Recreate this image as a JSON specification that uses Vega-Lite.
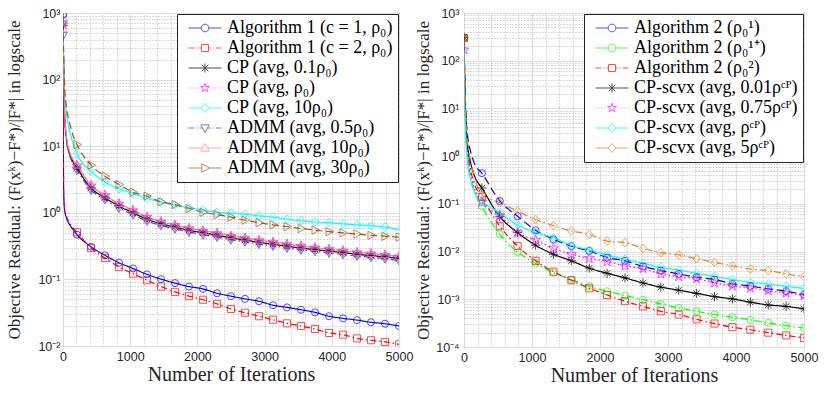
{
  "$schema": "https://vega.github.io/schema/vega-lite/v6.json",
  "background": "white",
  "padding": {"left": 5, "top": 6, "right": 5, "bottom": 5},
  "spacing": 0,
  "config": {
    "view": {"stroke": "#262626", "strokeWidth": 1},
    "axis": {
      "labelFont": "Liberation Sans", "labelFontSize": 12.5, "labelColor": "#262626",
      "titleFont": "Liberation Serif", "titleFontWeight": "normal", "titleColor": "#262626",
      "domain": false, "ticks": false, "labelFlush": false, "labelOverlap": false,
      "gridColor": "#dcdcdc", "gridWidth": 1
    },
    "legend": {
      "labelFont": "Liberation Serif", "labelFontSize": 18, "labelColor": "#000000",
      "fillColor": "white", "strokeColor": "#262626", "padding": 5, "rowPadding": 2,
      "symbolOffset": 14, "labelOffset": 13, "symbolSize": 49, "symbolStrokeWidth": 1,
      "orient": "top-right", "offset": 1, "labelLimit": 400
    }
  },
  "datasets": {
    "L": [
      {"it": 0, "a1": 940, "a2": 980, "a3": 650, "a4": 720, "a5": 800, "a6": 460, "a7": 590, "a8": 700},
      {"it": 10, "a1": 2.0, "a2": 2.1, "a3": 140, "a4": 150, "a5": 220, "a6": 120, "a7": 150, "a8": 260},
      {"it": 25, "a1": 1.1, "a2": 1.15, "a3": 28, "a4": 30, "a5": 60, "a6": 26, "a7": 31, "a8": 75},
      {"it": 50, "a1": 0.85, "a2": 0.9, "a3": 13.5, "a4": 14, "a5": 33, "a6": 12.5, "a7": 14.5, "a8": 40},
      {"it": 100, "a1": 0.66, "a2": 0.7, "a3": 7.6, "a4": 8, "a5": 17, "a6": 7.2, "a7": 8.2, "a8": 22},
      {"it": 150, "a1": 0.56, "a2": 0.59, "a3": 5.8, "a4": 6.1, "a5": 11, "a6": 5.5, "a7": 6.3, "a8": 14.5},
      {"it": 208, "a1": 0.47, "a2": 0.51, "a3": 4.7, "a4": 5.1, "a5": 7.7, "a6": 4.4, "a7": 5.2, "a8": 10.6},
      {"it": 417, "a1": 0.31, "a2": 0.295, "a3": 2.35, "a4": 2.55, "a5": 4.2, "a6": 2.2, "a7": 2.6, "a8": 5.2},
      {"it": 625, "a1": 0.23, "a2": 0.21, "a3": 1.68, "a4": 1.82, "a5": 2.9, "a6": 1.58, "a7": 1.85, "a8": 3.55},
      {"it": 833, "a1": 0.178, "a2": 0.153, "a3": 1.26, "a4": 1.36, "a5": 2.3, "a6": 1.18, "a7": 1.38, "a8": 2.66},
      {"it": 1042, "a1": 0.146, "a2": 0.122, "a3": 1.0, "a4": 1.08, "a5": 1.95, "a6": 0.94, "a7": 1.1, "a8": 2.04},
      {"it": 1250, "a1": 0.119, "a2": 0.097, "a3": 0.8, "a4": 0.86, "a5": 1.65, "a6": 0.75, "a7": 0.87, "a8": 1.78},
      {"it": 1458, "a1": 0.101, "a2": 0.078, "a3": 0.685, "a4": 0.73, "a5": 1.45, "a6": 0.645, "a7": 0.74, "a8": 1.46},
      {"it": 1667, "a1": 0.088, "a2": 0.065, "a3": 0.61, "a4": 0.65, "a5": 1.3, "a6": 0.575, "a7": 0.66, "a8": 1.33},
      {"it": 1875, "a1": 0.078, "a2": 0.056, "a3": 0.545, "a4": 0.58, "a5": 1.19, "a6": 0.515, "a7": 0.59, "a8": 1.16},
      {"it": 2083, "a1": 0.072, "a2": 0.0495, "a3": 0.5, "a4": 0.53, "a5": 1.1, "a6": 0.47, "a7": 0.54, "a8": 1.02},
      {"it": 2292, "a1": 0.062, "a2": 0.043, "a3": 0.46, "a4": 0.49, "a5": 1.02, "a6": 0.435, "a7": 0.5, "a8": 0.94},
      {"it": 2500, "a1": 0.056, "a2": 0.036, "a3": 0.42, "a4": 0.445, "a5": 0.99, "a6": 0.395, "a7": 0.455, "a8": 0.86},
      {"it": 2708, "a1": 0.051, "a2": 0.0316, "a3": 0.39, "a4": 0.415, "a5": 0.95, "a6": 0.368, "a7": 0.42, "a8": 0.775},
      {"it": 2917, "a1": 0.047, "a2": 0.028, "a3": 0.36, "a4": 0.385, "a5": 0.9, "a6": 0.34, "a7": 0.39, "a8": 0.71},
      {"it": 3125, "a1": 0.041, "a2": 0.0248, "a3": 0.337, "a4": 0.36, "a5": 0.86, "a6": 0.318, "a7": 0.365, "a8": 0.66},
      {"it": 3333, "a1": 0.038, "a2": 0.0219, "a3": 0.315, "a4": 0.335, "a5": 0.8, "a6": 0.297, "a7": 0.34, "a8": 0.62},
      {"it": 3542, "a1": 0.035, "a2": 0.02, "a3": 0.295, "a4": 0.315, "a5": 0.76, "a6": 0.278, "a7": 0.32, "a8": 0.58},
      {"it": 3750, "a1": 0.032, "a2": 0.018, "a3": 0.28, "a4": 0.298, "a5": 0.73, "a6": 0.264, "a7": 0.3, "a8": 0.55},
      {"it": 3958, "a1": 0.028, "a2": 0.0157, "a3": 0.266, "a4": 0.283, "a5": 0.71, "a6": 0.25, "a7": 0.285, "a8": 0.52},
      {"it": 4167, "a1": 0.026, "a2": 0.0148, "a3": 0.252, "a4": 0.268, "a5": 0.68, "a6": 0.237, "a7": 0.27, "a8": 0.5},
      {"it": 4375, "a1": 0.0245, "a2": 0.013, "a3": 0.238, "a4": 0.253, "a5": 0.66, "a6": 0.225, "a7": 0.255, "a8": 0.48},
      {"it": 4583, "a1": 0.0227, "a2": 0.0122, "a3": 0.228, "a4": 0.243, "a5": 0.64, "a6": 0.215, "a7": 0.245, "a8": 0.46},
      {"it": 4792, "a1": 0.0216, "a2": 0.0115, "a3": 0.218, "a4": 0.232, "a5": 0.61, "a6": 0.205, "a7": 0.235, "a8": 0.445},
      {"it": 5000, "a1": 0.02, "a2": 0.0106, "a3": 0.207, "a4": 0.218, "a5": 0.56, "a6": 0.192, "a7": 0.222, "a8": 0.43}
    ],
    "R": [
      {"it": 0, "b1": 300, "b2": 300, "b3": 300, "b4": 310, "b5": 170, "b6": 170, "b7": 310},
      {"it": 10, "b1": 60, "b2": 30, "b3": 40, "b4": 45, "b5": 30, "b6": 20, "b7": 50},
      {"it": 25, "b1": 10, "b2": 4, "b3": 6, "b4": 7, "b5": 4, "b6": 3, "b7": 7},
      {"it": 50, "b1": 3, "b2": 1.1, "b3": 1.6, "b4": 1.9, "b5": 1.2, "b6": 0.8, "b7": 2.2},
      {"it": 100, "b1": 1.2, "b2": 0.35, "b3": 0.5, "b4": 0.7, "b5": 0.4, "b6": 0.3, "b7": 0.75},
      {"it": 150, "b1": 0.72, "b2": 0.19, "b3": 0.27, "b4": 0.4, "b5": 0.22, "b6": 0.18, "b7": 0.38},
      {"it": 263, "b1": 0.44, "b2": 0.09, "b3": 0.14, "b4": 0.215, "b5": 0.11, "b6": 0.115, "b7": 0.156},
      {"it": 526, "b1": 0.115, "b2": 0.023, "b3": 0.034, "b4": 0.054, "b5": 0.057, "b6": 0.065, "b7": 0.106},
      {"it": 789, "b1": 0.055, "b2": 0.0098, "b3": 0.013, "b4": 0.025, "b5": 0.025, "b6": 0.036, "b7": 0.07},
      {"it": 1053, "b1": 0.028, "b2": 0.0057, "b3": 0.0064, "b4": 0.0136, "b5": 0.0174, "b6": 0.025, "b7": 0.047},
      {"it": 1316, "b1": 0.018, "b2": 0.0036, "b3": 0.0038, "b4": 0.0088, "b5": 0.0117, "b6": 0.0196, "b7": 0.035},
      {"it": 1579, "b1": 0.013, "b2": 0.0026, "b3": 0.0025, "b4": 0.0064, "b5": 0.0088, "b6": 0.0135, "b7": 0.027},
      {"it": 1842, "b1": 0.0103, "b2": 0.00187, "b3": 0.0017, "b4": 0.0045, "b5": 0.0072, "b6": 0.0108, "b7": 0.023},
      {"it": 2105, "b1": 0.0075, "b2": 0.00147, "b3": 0.00123, "b4": 0.0035, "b5": 0.0062, "b6": 0.0085, "b7": 0.0166},
      {"it": 2368, "b1": 0.0064, "b2": 0.0012, "b3": 0.00091, "b4": 0.0028, "b5": 0.005, "b6": 0.0069, "b7": 0.0154},
      {"it": 2632, "b1": 0.0049, "b2": 0.00098, "b3": 0.00071, "b4": 0.0022, "b5": 0.0044, "b6": 0.0057, "b7": 0.0117},
      {"it": 2895, "b1": 0.004, "b2": 0.0008, "b3": 0.00056, "b4": 0.0018, "b5": 0.0034, "b6": 0.0047, "b7": 0.0095},
      {"it": 3158, "b1": 0.0034, "b2": 0.00066, "b3": 0.00048, "b4": 0.00155, "b5": 0.003, "b6": 0.0041, "b7": 0.0085},
      {"it": 3421, "b1": 0.0029, "b2": 0.00056, "b3": 0.00038, "b4": 0.00133, "b5": 0.0027, "b6": 0.0035, "b7": 0.0071},
      {"it": 3684, "b1": 0.0026, "b2": 0.00048, "b3": 0.00031, "b4": 0.00114, "b5": 0.0022, "b6": 0.003, "b7": 0.0059},
      {"it": 3947, "b1": 0.0021, "b2": 0.00042, "b3": 0.00026, "b4": 0.00102, "b5": 0.0019, "b6": 0.0026, "b7": 0.005},
      {"it": 4211, "b1": 0.0019, "b2": 0.00037, "b3": 0.00023, "b4": 0.00087, "b5": 0.00172, "b6": 0.00225, "b7": 0.0043},
      {"it": 4474, "b1": 0.00165, "b2": 0.00032, "b3": 0.0002, "b4": 0.00076, "b5": 0.00152, "b6": 0.0021, "b7": 0.004},
      {"it": 4737, "b1": 0.00148, "b2": 0.00028, "b3": 0.000175, "b4": 0.00071, "b5": 0.00135, "b6": 0.00186, "b7": 0.0034},
      {"it": 5000, "b1": 0.00126, "b2": 0.00025, "b3": 0.000155, "b4": 0.00063, "b5": 0.0012, "b6": 0.0017, "b7": 0.003}
    ]
  },
  "hconcat": [
    {
      "width": 336,
      "height": 333,
      "data": {"name": "L"},
      "transform": [{"fold": ["a1", "a2", "a3", "a4", "a5", "a6", "a7", "a8"], "as": ["key", "v"]}],
      "resolve": {
        "scale": {"color": "independent", "shape": "independent", "strokeDash": "independent"},
        "axis": {"x": "independent", "y": "independent"}
      },
      "layer": [
        {
          "mark": {"type": "line", "strokeWidth": 1.2, "clip": true, "interpolate": "monotone"},
          "encoding": {
            "x": {"field": "it", "type": "quantitative", "scale": {"domain": [0, 5000], "nice": false},
              "axis": {"orient": "bottom", "values": [0, 1000, 2000, 3000, 4000, 5000], "format": "d", "title": "Number of Iterations", "titleFontSize": 20, "labelPadding": 4, "titlePadding": 2, "grid": true}},
            "y": {"field": "v", "type": "quantitative", "scale": {"type": "log", "domain": [0.01, 1000], "nice": false},
              "axis": {"orient": "left", "values": [0.01, 0.1, 1, 10, 100, 1000], "title": "Objective Residual: (F(xᵏ)−F*)/|F*| in logscale", "titleFontSize": 17, "titleLimit": 600, "labelPadding": 3, "titlePadding": 14, "grid": true,
                "labelExpr": "'10' + {'-4':'⁻⁴','-3':'⁻³','-2':'⁻²','-1':'⁻¹','0':'⁰','1':'¹','2':'²','3':'³'}[round(log(datum.value)/LN10)]"}},
            "color": {"field": "key", "type": "nominal", "legend": null,
              "scale": {"domain": ["a1", "a2", "a3", "a4", "a5", "a6", "a7", "a8"], "range": ["#0000ff", "#ff0000", "#000000", "#ff00ff", "#00ffff", "#4040c4", "#ff8080", "#9a5518"]}},
            "strokeDash": {"field": "key", "type": "nominal", "legend": null,
              "scale": {"domain": ["a1", "a2", "a3", "a4", "a5", "a6", "a7", "a8"], "range": [[1, 0], [6, 3, 1.5, 3], [1, 0], [1.5, 2.5], [1, 0], [6, 3, 1.5, 3], [1, 0], [7, 4]]}}
          }
        },
        {
          "transform": [{"filter": "datum.it == 0 || datum.it >= 200"}],
          "mark": {"type": "point", "filled": false, "size": 50, "strokeWidth": 1, "clip": true},
          "encoding": {
            "x": {"field": "it", "type": "quantitative", "axis": null},
            "y": {"field": "v", "type": "quantitative", "axis": null},
            "color": {"field": "key", "type": "nominal", "legend": null,
              "scale": {"domain": ["a1", "a2", "a3", "a4", "a5", "a6", "a7", "a8"], "range": ["#0000ff", "#ff0000", "#000000", "#ff00ff", "#00ffff", "#4040c4", "#ff8080", "#9a5518"]}},
            "shape": {"field": "key", "type": "nominal", "legend": null,
              "scale": {"domain": ["a1", "a2", "a3", "a4", "a5", "a6", "a7", "a8"], "range": [
                "circle",
                "square",
                "M-1.3,0L1.3,0M0,-1.3L0,1.3M-0.92,-0.92L0.92,0.92M-0.92,0.92L0.92,-0.92",
                "M0,-1.5L0.337,-0.464L1.427,-0.464L0.545,0.177L0.882,1.214L0,0.573L-0.882,1.214L-0.545,0.177L-1.427,-0.464L-0.337,-0.464Z",
                "M0,-1.25L1.05,0L0,1.25L-1.05,0Z",
                "M-1.2,-0.85L1.2,-0.85L0,1.3Z",
                "M-1.2,0.85L1.2,0.85L0,-1.3Z",
                "M1.3,0L-0.85,-1.2L-0.85,1.2Z"
              ]}}
          }
        },
        {
          "transform": [{"filter": "datum.it < 0"}],
          "mark": {"type": "point", "filled": false, "size": 49, "strokeWidth": 1},
          "encoding": {
            "x": {"field": "it", "type": "quantitative",
              "axis": {"orient": "top", "values": [200, 400, 600, 800, 1200, 1400, 1600, 1800, 2200, 2400, 2600, 2800, 3200, 3400, 3600, 3800, 4200, 4400, 4600, 4800], "labels": false, "title": null, "grid": true, "gridDash": [1, 2], "gridColor": "#b4b4b4"}},
            "y": {"field": "v", "type": "quantitative",
              "axis": {"orient": "right", "values": [0.02, 0.03, 0.04, 0.05, 0.06, 0.07, 0.08, 0.09, 0.2, 0.3, 0.4, 0.5, 0.6, 0.7, 0.8, 0.9, 2, 3, 4, 5, 6, 7, 8, 9, 20, 30, 40, 50, 60, 70, 80, 90, 200, 300, 400, 500, 600, 700, 800, 900], "labels": false, "title": null, "grid": true, "gridDash": [1, 2], "gridColor": "#b4b4b4"}},
            "color": {"field": "key", "type": "nominal", "legend": {"title": null, "labelFont": "Liberation Serif", "labelExpr": "{'a1':'Algorithm 1 (c = 1, ρ₀)','a2':'Algorithm 1 (c = 2, ρ₀)','a3':'CP (avg, 0.1ρ₀)','a4':'CP (avg, ρ₀)','a5':'CP (avg, 10ρ₀)','a6':'ADMM (avg, 0.5ρ₀)','a7':'ADMM (avg, 10ρ₀)','a8':'ADMM (avg, 30ρ₀)'}[datum.label]"},
              "scale": {"domain": ["a1", "a2", "a3", "a4", "a5", "a6", "a7", "a8"], "range": ["#0000ff", "#ff0000", "#000000", "#ff00ff", "#00ffff", "#4040c4", "#ff8080", "#9a5518"]}},
            "shape": {"field": "key", "type": "nominal", "legend": {"title": null, "labelFont": "Liberation Serif", "labelExpr": "{'a1':'Algorithm 1 (c = 1, ρ₀)','a2':'Algorithm 1 (c = 2, ρ₀)','a3':'CP (avg, 0.1ρ₀)','a4':'CP (avg, ρ₀)','a5':'CP (avg, 10ρ₀)','a6':'ADMM (avg, 0.5ρ₀)','a7':'ADMM (avg, 10ρ₀)','a8':'ADMM (avg, 30ρ₀)'}[datum.label]"},
              "scale": {"domain": ["a1", "a2", "a3", "a4", "a5", "a6", "a7", "a8"], "range": [
                "M-4.7,0L-1.1,0M1.1,0L4.7,0M1.1,0A1.1,1.1,0,1,1,-1.1,0A1.1,1.1,0,1,1,1.1,0",
                "M-4.7,0L-3.1,0M-2.5,0L-2.2,0M-1.6,0L-1,0M1,0L1.6,0M2.2,0L2.5,0M3.1,0L4.7,0M-1,-1L1,-1L1,1L-1,1Z",
                "M-4.7,0L4.7,0M0,-1.3L0,1.3M-0.95,-0.95L0.95,0.95M-0.95,0.95L0.95,-0.95",
                "M-4.7,0L-4.45,0M-3.85,0L-3.6,0M-3,0L-2.75,0M-2.15,0L-1.9,0M1.9,0L2.15,0M2.75,0L3,0M3.6,0L3.85,0M4.45,0L4.7,0M0,-1.35L0.304,-0.417L1.284,-0.417L0.49,0.159L0.794,1.092L0,0.516L-0.794,1.092L-0.49,0.159L-1.284,-0.417L-0.304,-0.417Z",
                "M-4.7,0L-1.1,0M1.1,0L4.7,0M0,-1.3L1.1,0L0,1.3L-1.1,0Z",
                "M-4.7,0L-3.1,0M-2.5,0L-2.2,0M-1.6,0L-0.8,0M0.8,0L1.6,0M2.2,0L2.5,0M3.1,0L4.7,0M-1.2,-0.9L1.2,-0.9L0,1.3Z",
                "M-4.7,0L-0.7,0M0.7,0L4.7,0M-1.2,0.9L1.2,0.9L0,-1.3Z",
                "M-4.7,0L-0.9,0M1.3,0L4.7,0M1.3,0L-0.9,-1.2L-0.9,1.2Z"
              ]}}
          }
        }
      ]
    },
    {
      "width": 340,
      "height": 334,
      "data": {"name": "R"},
      "transform": [{"fold": ["b1", "b2", "b3", "b4", "b5", "b6", "b7"], "as": ["key", "v"]}],
      "resolve": {
        "scale": {"color": "independent", "shape": "independent", "strokeDash": "independent"},
        "axis": {"x": "independent", "y": "independent"}
      },
      "layer": [
        {
          "mark": {"type": "line", "strokeWidth": 1.2, "clip": true, "interpolate": "monotone"},
          "encoding": {
            "x": {"field": "it", "type": "quantitative", "scale": {"domain": [0, 5000], "nice": false},
              "axis": {"orient": "bottom", "values": [0, 1000, 2000, 3000, 4000, 5000], "format": "d", "title": "Number of Iterations", "titleFontSize": 20, "labelPadding": 4, "titlePadding": 2, "grid": true}},
            "y": {"field": "v", "type": "quantitative", "scale": {"type": "log", "domain": [0.0001, 1000], "nice": false},
              "axis": {"orient": "left", "values": [0.0001, 0.001, 0.01, 0.1, 1, 10, 100, 1000], "title": "Objective Residual: (F(xᵏ)−F*)/|F*| in logscale", "titleFontSize": 17, "titleLimit": 600, "labelPadding": 5, "titlePadding": 3, "grid": true,
                "labelExpr": "'10' + {'-4':'⁻⁴','-3':'⁻³','-2':'⁻²','-1':'⁻¹','0':'⁰','1':'¹','2':'²','3':'³'}[round(log(datum.value)/LN10)]"}},
            "color": {"field": "key", "type": "nominal", "legend": null,
              "scale": {"domain": ["b1", "b2", "b3", "b4", "b5", "b6", "b7"], "range": ["#0000ff", "#00ff00", "#ff0000", "#000000", "#ff00ff", "#00ffff", "#e6801e"]}},
            "strokeDash": {"field": "key", "type": "nominal", "legend": null,
              "scale": {"domain": ["b1", "b2", "b3", "b4", "b5", "b6", "b7"], "range": [[8, 4], [7, 3, 1.5, 3], [6, 3, 1.5, 3], [1, 0], [1.5, 2.5], [1, 0], [7, 3, 1.5, 3]]}}
          }
        },
        {
          "transform": [{"filter": "datum.it == 0 || datum.it >= 200"}],
          "mark": {"type": "point", "filled": false, "size": 50, "strokeWidth": 1, "clip": true},
          "encoding": {
            "x": {"field": "it", "type": "quantitative", "axis": null},
            "y": {"field": "v", "type": "quantitative", "axis": null},
            "color": {"field": "key", "type": "nominal", "legend": null,
              "scale": {"domain": ["b1", "b2", "b3", "b4", "b5", "b6", "b7"], "range": ["#0000ff", "#00ff00", "#ff0000", "#000000", "#ff00ff", "#00ffff", "#e6801e"]}},
            "shape": {"field": "key", "type": "nominal", "legend": null,
              "scale": {"domain": ["b1", "b2", "b3", "b4", "b5", "b6", "b7"], "range": [
                "circle",
                "circle",
                "square",
                "M-1.3,0L1.3,0M0,-1.3L0,1.3M-0.92,-0.92L0.92,0.92M-0.92,0.92L0.92,-0.92",
                "M0,-1.5L0.337,-0.464L1.427,-0.464L0.545,0.177L0.882,1.214L0,0.573L-0.882,1.214L-0.545,0.177L-1.427,-0.464L-0.337,-0.464Z",
                "M0,-1.25L1.05,0L0,1.25L-1.05,0Z",
                "M0,-1.25L1.05,0L0,1.25L-1.05,0Z"
              ]}}
          }
        },
        {
          "transform": [{"filter": "datum.it < 0"}],
          "mark": {"type": "point", "filled": false, "size": 49, "strokeWidth": 1},
          "encoding": {
            "x": {"field": "it", "type": "quantitative",
              "axis": {"orient": "top", "values": [200, 400, 600, 800, 1200, 1400, 1600, 1800, 2200, 2400, 2600, 2800, 3200, 3400, 3600, 3800, 4200, 4400, 4600, 4800], "labels": false, "title": null, "grid": true, "gridDash": [1, 2], "gridColor": "#b4b4b4"}},
            "y": {"field": "v", "type": "quantitative",
              "axis": {"orient": "right", "values": [0.0002, 0.0003, 0.0004, 0.0005, 0.0006, 0.0007, 0.0008, 0.0009, 0.002, 0.003, 0.004, 0.005, 0.006, 0.007, 0.008, 0.009, 0.02, 0.03, 0.04, 0.05, 0.06, 0.07, 0.08, 0.09, 0.2, 0.3, 0.4, 0.5, 0.6, 0.7, 0.8, 0.9, 2, 3, 4, 5, 6, 7, 8, 9, 20, 30, 40, 50, 60, 70, 80, 90, 200, 300, 400, 500, 600, 700, 800, 900], "labels": false, "title": null, "grid": true, "gridDash": [1, 2], "gridColor": "#b4b4b4"}},
            "color": {"field": "key", "type": "nominal", "legend": {"title": null, "labelFont": "Liberation Serif", "labelExpr": "{'b1':'Algorithm 2 (ρ₀¹)','b2':'Algorithm 2 (ρ₀¹⁺)','b3':'Algorithm 2 (ρ₀²)','b4':'CP-scvx (avg, 0.01ρᶜᴾ)','b5':'CP-scvx (avg, 0.75ρᶜᴾ)','b6':'CP-scvx (avg, ρᶜᴾ)','b7':'CP-scvx (avg, 5ρᶜᴾ)'}[datum.label]"},
              "scale": {"domain": ["b1", "b2", "b3", "b4", "b5", "b6", "b7"], "range": ["#0000ff", "#00ff00", "#ff0000", "#000000", "#ff00ff", "#00ffff", "#e6801e"]}},
            "shape": {"field": "key", "type": "nominal", "legend": {"title": null, "labelFont": "Liberation Serif", "labelExpr": "{'b1':'Algorithm 2 (ρ₀¹)','b2':'Algorithm 2 (ρ₀¹⁺)','b3':'Algorithm 2 (ρ₀²)','b4':'CP-scvx (avg, 0.01ρᶜᴾ)','b5':'CP-scvx (avg, 0.75ρᶜᴾ)','b6':'CP-scvx (avg, ρᶜᴾ)','b7':'CP-scvx (avg, 5ρᶜᴾ)'}[datum.label]"},
              "scale": {"domain": ["b1", "b2", "b3", "b4", "b5", "b6", "b7"], "range": [
                "M-4.7,0L-1.1,0M1.1,0L4.7,0M1.1,0A1.1,1.1,0,1,1,-1.1,0A1.1,1.1,0,1,1,1.1,0",
                "M-4.7,0L-1.1,0M1.1,0L4.7,0M1.1,0A1.1,1.1,0,1,1,-1.1,0A1.1,1.1,0,1,1,1.1,0",
                "M-4.7,0L-3.1,0M-2.5,0L-2.2,0M-1.6,0L-1,0M1,0L1.6,0M2.2,0L2.5,0M3.1,0L4.7,0M-1,-1L1,-1L1,1L-1,1Z",
                "M-4.7,0L4.7,0M0,-1.3L0,1.3M-0.95,-0.95L0.95,0.95M-0.95,0.95L0.95,-0.95",
                "M-4.7,0L-4.45,0M-3.85,0L-3.6,0M-3,0L-2.75,0M-2.15,0L-1.9,0M1.9,0L2.15,0M2.75,0L3,0M3.6,0L3.85,0M4.45,0L4.7,0M0,-1.35L0.304,-0.417L1.284,-0.417L0.49,0.159L0.794,1.092L0,0.516L-0.794,1.092L-0.49,0.159L-1.284,-0.417L-0.304,-0.417Z",
                "M-4.7,0L-1.1,0M1.1,0L4.7,0M0,-1.3L1.1,0L0,1.3L-1.1,0Z",
                "M-4.7,0L-1.1,0M1.1,0L4.7,0M0,-1.3L1.1,0L0,1.3L-1.1,0Z"
              ]}}
          }
        }
      ]
    }
  ]
}
